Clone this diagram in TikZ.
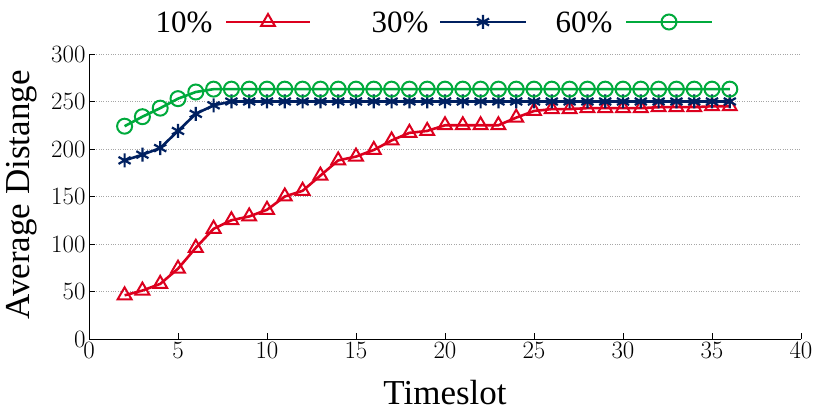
\documentclass[tikz,border=0pt]{standalone}
\usepackage{fontspec}
\setmainfont{Liberation Serif}
\usepackage{pgfplots}
\pgfplotsset{compat=1.18}
\definecolor{redline}{RGB}{220,0,30}
\definecolor{blueline}{RGB}{0,32,96}
\definecolor{greenline}{RGB}{0,170,60}
\tikzset{
  curve/.style={line width=2.6pt},
  legtext/.style={font=\fontsize{31}{33}\selectfont, anchor=east},
  axlabel/.style={font=\fontsize{35}{37}\selectfont}
}
\begin{document}
\begin{tikzpicture}[x=1pt,y=1pt]
        \useasboundingbox (0,0) rectangle (830,407);
        \begin{axis}[at={(89pt,68pt)}, anchor=south west, width=712pt, height=285pt,
            scale only axis, xmin=0, xmax=40, ymin=0, ymax=300,
            axis x line*=bottom, axis y line*=left, axis line style={line width=1pt, -},
            xtick={0,5,...,40}, ytick={0,50,...,300}, tick align=inside,
            major tick length=6pt, tick style={line width=0.8pt, black},
            ymajorgrids, grid style={gray!70, dotted, line width=0.6pt},
            tick label style={font=\fontsize{34}{36}\selectfont},
            clip=false]
            \addplot[curve, redline, mark=triangle, mark size=8pt, mark options={line width=2pt}] coordinates {
                (2,46)(3,51)(4,58)(5,74)(6,96)(7,116)(8,125)(9,129)(10,136)(11,150)(12,156)(13,172)
                (14,188)(15,192)(16,199)(17,209)(18,217)(19,219)(20,225)(21,225)(22,225)(23,225)
                (24,233)(25,240)(26,242)(27,242)(28,243)(29,243)(30,243)(31,243)(32,244)(33,244)
                (34,244)(35,245)(36,245)};
            \addplot[curve, blueline, mark=asterisk, mark size=7pt, mark options={line width=2.2pt}] coordinates {
                (2,188)(3,194)(4,201)(5,219)(6,237)(7,246)(8,250)(9,250)(10,250)(11,250)(12,250)
                (13,250)(14,250)(15,250)(16,250)(17,250)(18,250)(19,250)(20,250)(21,250)(22,250)
                (23,250)(24,250)(25,250)(26,250)(27,250)(28,250)(29,250)(30,250)(31,250)(32,250)
                (33,250)(34,250)(35,250)(36,250)};
            \addplot[curve, greenline, mark=o, mark size=7.5pt, mark options={line width=2pt}] coordinates {
                (2,224)(3,234)(4,243)(5,253)(6,260)(7,263)(8,263)(9,263)(10,263)(11,263)(12,263)
                (13,263)(14,263)(15,263)(16,263)(17,263)(18,263)(19,263)(20,263)(21,263)(22,263)
                (23,263)(24,263)(25,263)(26,263)(27,263)(28,263)(29,263)(30,263)(31,263)(32,263)
                (33,263)(34,263)(35,263)(36,263)};
        \end{axis}
        % axis labels
        \node[axlabel] (xlab) at (445,14) {Timeslot};
        \node[axlabel, rotate=90] (ylab) at (22,212) {Average Distange};
        % legend
        \node[legtext] (ten) at (216,385) {10\%};
        \node[legtext] (thirty) at (432,385) {30\%};
        \node[legtext] (sixty) at (616,385) {60\%};
        \coordinate (redA) at (226,385); \coordinate (redB) at (310,385);
        \coordinate (blueA) at (440,385); \coordinate (blueB) at (526,385);
        \coordinate (greenA) at (626,385); \coordinate (greenB) at (712,385);
        \coordinate (redM) at (268,385);
        \coordinate (blueM) at (483,385);
        \coordinate (greenM) at (669,385);
        \draw[curve, redline] (redA) -- (redB);
        \draw[curve, blueline] (blueA) -- (blueB);
        \draw[curve, greenline] (greenA) -- (greenB);
        \begin{scope}[shift={(redM)}, draw=redline, line width=2pt]
            \pgfsetplotmarksize{8pt}\pgfuseplotmark{triangle}
        \end{scope}
        \begin{scope}[shift={(blueM)}, draw=blueline, line width=2.2pt]
            \pgfsetplotmarksize{7pt}\pgfuseplotmark{asterisk}
        \end{scope}
        \begin{scope}[shift={(greenM)}, draw=greenline, line width=2pt]
            \pgfsetplotmarksize{7.5pt}\pgfuseplotmark{o}
        \end{scope}
\end{tikzpicture}
\end{document}
